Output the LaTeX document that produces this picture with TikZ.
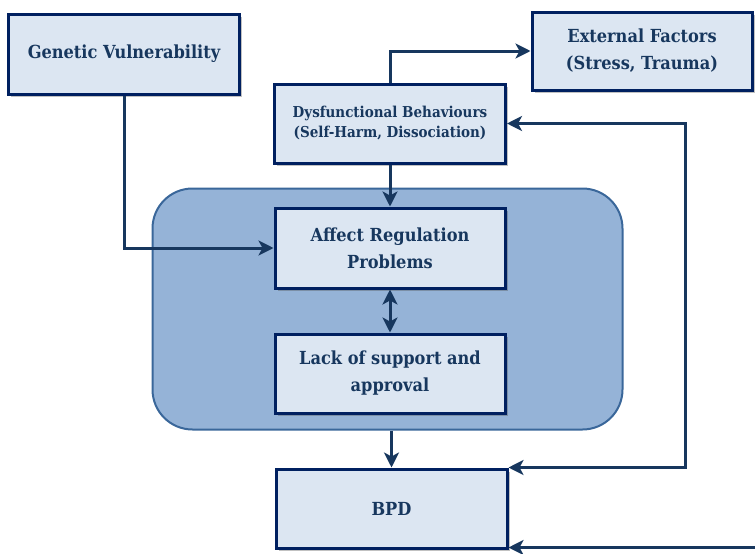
\documentclass[tikz,border=0pt]{standalone}
\usepackage{fontspec}
\setmainfont{DejaVu Serif Condensed}
\usepackage{tikz}
\usetikzlibrary{arrows.meta,positioning,calc,shadows}

\definecolor{boxfill}{HTML}{DCE6F2}
\definecolor{boxline}{HTML}{002060}
\definecolor{linkcol}{HTML}{17375E}
\definecolor{grpfill}{HTML}{95B3D7}
\definecolor{grpline}{HTML}{3A679A}

\tikzset{
  box/.style={draw=boxline, line width=3pt, fill=boxfill, text=linkcol,
    font=\fontsize{18}{27}\selectfont\bfseries, align=center, inner sep=0pt,
    drop shadow={shadow xshift=2.5pt, shadow yshift=-2.5pt, opacity=0.35, fill=black!70}},
  smallbox/.style={box, font=\fontsize{15}{20}\selectfont\bfseries},
  link/.style={draw=linkcol, line width=3pt, -{Stealth[length=15pt,width=15pt,inset=4pt]}},
  both/.style={link, {Stealth[length=15pt,width=15pt,inset=4pt]}-{Stealth[length=15pt,width=15pt,inset=4pt]}},
}

\begin{document}
\begin{tikzpicture}[x=1pt,y=-1pt]
\useasboundingbox (0,0) rectangle (755,554);
% Group background
\node[draw=grpline, line width=2pt, fill=grpfill, rounded corners=40pt,
  minimum width=470pt, minimum height=241pt] (grp) at (387.5,309) {};
% Boxes
\node[box, minimum width=231pt, minimum height=80pt] (gen) at (124,54) {Genetic Vulnerability};
\node[box, minimum width=220pt, minimum height=78pt] (ext) at (642,51) {External Factors\\(Stress, Trauma)};
\node[smallbox, minimum width=231pt, minimum height=79pt] (dys) at (390,123.5) {Dysfunctional Behaviours\\(Self-Harm, Dissociation)};
\node[box, minimum width=230pt, minimum height=80pt] (arp) at (390,248) {Affect Regulation\\Problems};
\node[box, minimum width=230pt, minimum height=79pt] (lack) at (390,373.5) {Lack of support and\\approval};
\node[box, minimum width=231pt, minimum height=79pt] (bpd) at (391.5,508.5) {BPD};
% Helper points on the right
\coordinate (loop) at (685,300);
\coordinate (edge) at (757,547.5);
% Connectors
\draw[link] (gen.south) |- (arp.west);
\draw[link] (dys.north) |- (ext.west);
\draw[link] (dys.south) -- (arp.north);
\draw[both] (arp.south) -- (lack.north);
\draw[link] (bpd.north |- grp.south) -- (bpd.north);
\draw[both] (dys.east) -| (loop) |- (bpd.north east);
\draw[link] (edge) -- (edge -| bpd.east);
\end{tikzpicture}
\end{document}
